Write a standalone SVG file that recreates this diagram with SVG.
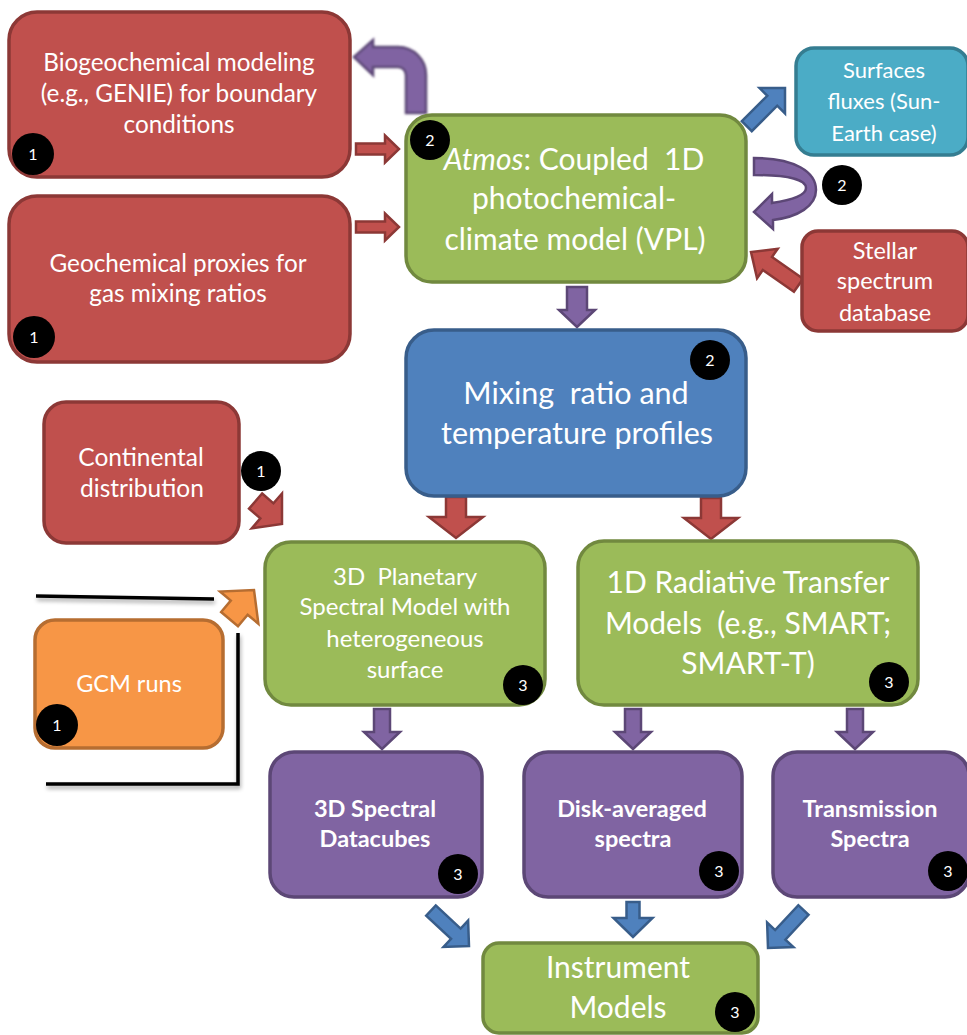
<svg xmlns="http://www.w3.org/2000/svg" width="967" height="1035" viewBox="0 0 967 1035">
  <style>
    .box { stroke-width: 3.5; }
    .red { fill: #c0504d; stroke: #8c3836; }
    .green { fill: #9bbb59; stroke: #71893f; }
    .blue { fill: #4f81bd; stroke: #385d8a; }
    .cyan { fill: #4bacc6; stroke: #357d91; }
    .purple { fill: #8064a2; stroke: #5c4776; }
    .orange { fill: #f79646; stroke: #b66d31; }
    .arrow { stroke-width: 2.5; stroke-linejoin: miter; }
    text { font-family: Lato, "Liberation Sans", sans-serif; fill: #ffffff; text-anchor: middle; }
    .b { font-weight: bold; }
    .badge circle { fill: #000000; }
    .badge text { font-size: 16px; }
    .rule { fill: none; stroke: #000000; stroke-width: 3.5; }
  </style>
  <defs>
    <filter id="soft" x="-20%" y="-20%" width="140%" height="140%">
      <feGaussianBlur stdDeviation="0.8"/>
    </filter>
    <filter id="lineShadow" x="-10%" y="-50%" width="120%" height="200%">
      <feGaussianBlur in="SourceAlpha" stdDeviation="2"/>
      <feOffset dx="1" dy="3" result="s"/>
      <feComponentTransfer in="s" result="s2"><feFuncA type="linear" slope="0.35"/></feComponentTransfer>
      <feMerge><feMergeNode in="s2"/><feMergeNode in="SourceGraphic"/></feMerge>
    </filter>
  </defs>

  <!-- GCM bracket lines -->
  <g id="gcm-bracket" filter="url(#lineShadow)">
    <path class="rule" d="M36 596 L214 599"/>
    <path class="rule" d="M238 633 L238 784 L46 784"/>
  </g>

  <!-- Connectors -->
  <g id="connectors">
    <!-- inputs into Atmos -->
    <path class="arrow red" transform="translate(399,149)" d="M-43,-5.5 L-14,-5.5 L-14,-13.5 L0,0 L-14,13.5 L-14,5.5 L-43,5.5 Z"/>
    <path class="arrow red" transform="translate(399,227)" d="M-43,-5.5 L-14,-5.5 L-14,-13.5 L0,0 L-14,13.5 L-14,5.5 L-43,5.5 Z"/>
    <!-- feedback to biogeochemical model -->
    <path class="arrow purple" filter="url(#soft)" d="M406 113 L406 75 A8 8 0 0 0 398 67 L373 67 L373 75 L354 57 L373 40 L373 47 L398 47 A28 28 0 0 1 426 75 L426 113 Z"/>
    <!-- Atmos to surface fluxes -->
    <path class="arrow blue" transform="translate(785,88) rotate(-45)" d="M-54,-7 L-18,-7 L-18,-18 L0,0 L-18,18 L-18,7 L-54,7 Z"/>
    <!-- Atmos self-iteration loop -->
    <path class="arrow purple" d="M754 158 C795 158 816 172 816 190 C816 206 798 217 773 220 L773 229 L754 212 L772 194 L772 203 C792 200 806 195 806 188 C806 180 790 175 754 175 Z"/>
    <!-- stellar spectrum into Atmos -->
    <path class="arrow red" transform="translate(751,252) rotate(215)" d="M-58,-8 L-20,-8 L-20,-18 L0,0 L-20,18 L-20,8 L-58,8 Z"/>
    <!-- Atmos to profiles -->
    <path class="arrow purple" transform="translate(577,327) rotate(90)" d="M-40,-10 L-17,-10 L-17,-18 L0,0 L-17,18 L-17,10 L-40,10 Z"/>
    <!-- profiles to spectral models -->
    <path class="arrow red" transform="translate(456,538) rotate(90)" d="M-41,-10 L-21,-10 L-21,-27 L0,0 L-21,27 L-21,10 L-41,10 Z"/>
    <path class="arrow red" transform="translate(711,539) rotate(90)" d="M-41,-10 L-21,-10 L-21,-27 L0,0 L-21,27 L-21,10 L-41,10 Z"/>
    <!-- side inputs to the 3D model -->
    <path class="arrow red" transform="translate(282,524) rotate(41)" d="M-35,-10 L-20,-10 L-20,-23 L0,0 L-20,23 L-20,10 L-35,10 Z"/>
    <path class="arrow orange" transform="translate(254,590) rotate(-50)" d="M-38,-11 L-23,-11 L-23,-25 L0,0 L-23,25 L-23,11 L-38,11 Z"/>
    <!-- spectral models to products -->
    <path class="arrow purple" transform="translate(382,749) rotate(90)" d="M-40,-8 L-17,-8 L-17,-18 L0,0 L-17,18 L-17,8 L-40,8 Z"/>
    <path class="arrow purple" transform="translate(633,749) rotate(90)" d="M-40,-8 L-17,-8 L-17,-18 L0,0 L-17,18 L-17,8 L-40,8 Z"/>
    <path class="arrow purple" transform="translate(855,749) rotate(90)" d="M-40,-8 L-17,-8 L-17,-18 L0,0 L-17,18 L-17,8 L-40,8 Z"/>
    <!-- products to instrument models -->
    <path class="arrow blue" transform="translate(469,946) rotate(43)" d="M-52,-7 L-18,-7 L-18,-18 L0,0 L-18,18 L-18,7 L-52,7 Z"/>
    <path class="arrow blue" transform="translate(633,937) rotate(90)" d="M-35,-6.5 L-19,-6.5 L-19,-19.5 L0,0 L-19,19.5 L-19,6.5 L-35,6.5 Z"/>
    <path class="arrow blue" transform="translate(768,948) rotate(133)" d="M-52,-7 L-18,-7 L-18,-18 L0,0 L-18,18 L-18,7 L-52,7 Z"/>
  </g>

  <!-- Nodes -->
  <g id="biogeochemical">
    <rect class="box red" x="9" y="12" width="341" height="165" rx="28"/>
    <text font-size="24.3"><tspan x="179" y="71">Biogeochemical modeling</tspan><tspan x="179" y="102">(e.g., GENIE) for boundary</tspan><tspan x="179" y="133">conditions</tspan></text>
    <g class="badge"><circle cx="33" cy="154" r="21"/><text x="33" y="160">1</text></g>
  </g>

  <g id="geochemical">
    <rect class="box red" x="9" y="196" width="341" height="166" rx="28"/>
    <text font-size="24.3"><tspan x="178" y="272">Geochemical proxies for</tspan><tspan x="178" y="302">gas mixing ratios</tspan></text>
    <g class="badge"><circle cx="34" cy="337" r="21"/><text x="34" y="343">1</text></g>
  </g>

  <g id="atmos">
    <rect class="box green" x="406" y="115" width="340" height="167" rx="26"/>
    <text font-size="30"><tspan x="574" y="170"><tspan font-style="italic">Atmos</tspan>: Coupled&#160; 1D</tspan><tspan x="574" y="209">photochemical-</tspan><tspan x="575" y="250">climate model (VPL)</tspan></text>
    <g class="badge"><circle cx="430" cy="140" r="20"/><text x="430" y="146">2</text></g>
  </g>

  <g id="surface-fluxes">
    <rect class="box cyan" x="796" y="48" width="172" height="107" rx="18"/>
    <text font-size="22"><tspan x="884" y="78">Surfaces</tspan><tspan x="884" y="109">fluxes (Sun-</tspan><tspan x="884" y="141">Earth case)</tspan></text>
  </g>

  <g id="iteration-badge" class="badge">
    <circle cx="842" cy="185" r="20"/><text x="842" y="191">2</text>
  </g>

  <g id="stellar-spectrum">
    <rect class="box red" x="802" y="231" width="166" height="100" rx="16"/>
    <text font-size="23.5"><tspan x="885" y="259">Stellar</tspan><tspan x="885" y="289">spectrum</tspan><tspan x="885" y="321">database</tspan></text>
  </g>

  <g id="profiles">
    <rect class="box blue" x="406" y="330" width="340" height="166" rx="28"/>
    <text font-size="30.5"><tspan x="576" y="404">Mixing&#160; ratio and</tspan><tspan x="577" y="444">temperature profiles</tspan></text>
    <g class="badge"><circle cx="710" cy="360" r="20"/><text x="710" y="366">2</text></g>
  </g>

  <g id="continental">
    <rect class="box red" x="44" y="402" width="195" height="141" rx="22"/>
    <text font-size="24.5"><tspan x="141" y="466">Continental</tspan><tspan x="142" y="497">distribution</tspan></text>
    <g class="badge"><circle cx="261" cy="471" r="20"/><text x="261" y="477">1</text></g>
  </g>

  <g id="gcm">
    <rect class="box orange" x="35" y="620" width="188" height="128" rx="20"/>
    <text x="129" y="692" font-size="23.5">GCM runs</text>
    <g class="badge"><circle cx="57" cy="725" r="21"/><text x="57" y="731">1</text></g>
  </g>

  <g id="planetary-3d">
    <rect class="box green" x="265" y="542" width="280" height="163" rx="26"/>
    <text font-size="24"><tspan x="405" y="585">3D&#160; Planetary</tspan><tspan x="405" y="615">Spectral Model with</tspan><tspan x="405" y="647">heterogeneous</tspan><tspan x="405" y="678">surface</tspan></text>
    <g class="badge"><circle cx="523" cy="685" r="20"/><text x="523" y="691">3</text></g>
  </g>

  <g id="radiative-1d">
    <rect class="box green" x="578" y="541" width="340" height="164" rx="26"/>
    <text font-size="30"><tspan x="748" y="593">1D Radiative Transfer</tspan><tspan x="748" y="634">Models&#160; (e.g., SMART;</tspan><tspan x="748" y="674">SMART-T)</tspan></text>
    <g class="badge"><circle cx="889" cy="682" r="20"/><text x="889" y="688">3</text></g>
  </g>

  <g id="datacubes">
    <rect class="box purple" x="270" y="752" width="212" height="145" rx="24"/>
    <text class="b" font-size="23.5"><tspan x="375" y="817">3D Spectral</tspan><tspan x="375" y="847">Datacubes</tspan></text>
    <g class="badge"><circle cx="458" cy="874" r="20"/><text x="458" y="880">3</text></g>
  </g>

  <g id="disk-averaged">
    <rect class="box purple" x="524" y="752" width="218" height="145" rx="24"/>
    <text class="b" font-size="23.5"><tspan x="632" y="817">Disk-averaged</tspan><tspan x="633" y="847">spectra</tspan></text>
    <g class="badge"><circle cx="719" cy="871" r="20"/><text x="719" y="877">3</text></g>
  </g>

  <g id="transmission">
    <rect class="box purple" x="773" y="752" width="196" height="145" rx="24"/>
    <text class="b" font-size="23.5"><tspan x="870" y="817">Transmission</tspan><tspan x="870" y="847">Spectra</tspan></text>
    <g class="badge"><circle cx="948" cy="871" r="20"/><text x="948" y="877">3</text></g>
  </g>

  <g id="instrument">
    <rect class="box green" x="483" y="943" width="275" height="90" rx="16"/>
    <text font-size="30"><tspan x="618" y="978">Instrument</tspan><tspan x="618" y="1018">Models</tspan></text>
    <g class="badge"><circle cx="735" cy="1012" r="20"/><text x="735" y="1018">3</text></g>
  </g>
</svg>
